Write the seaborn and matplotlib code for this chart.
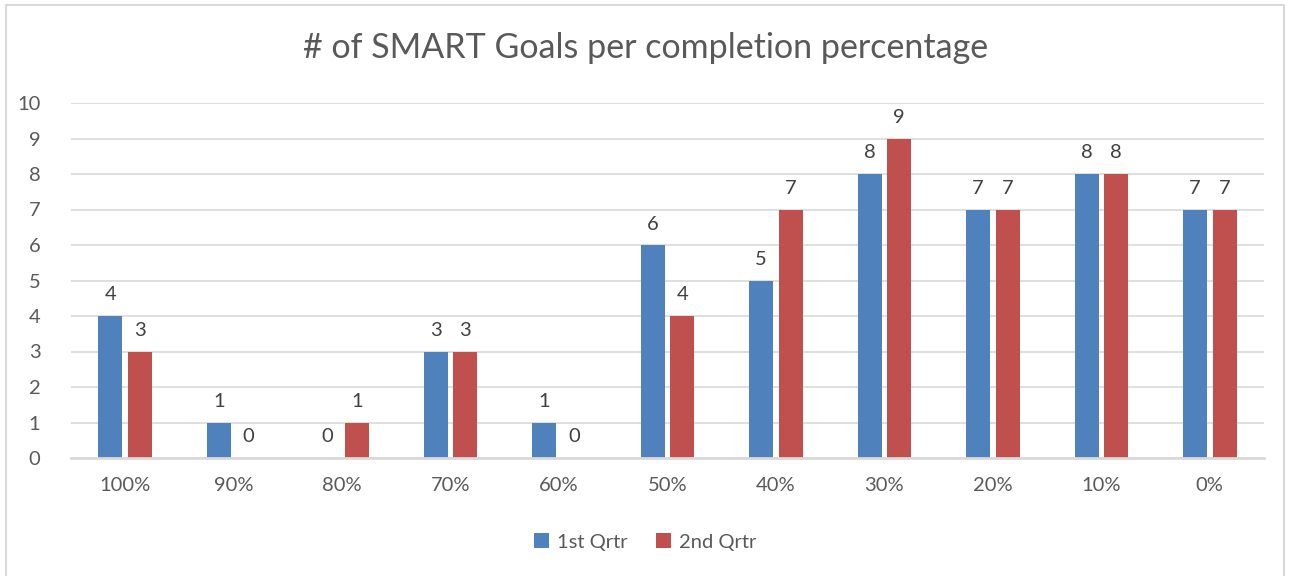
import matplotlib
matplotlib.use("Agg")
import matplotlib.pyplot as plt
import seaborn as sns
import pandas as pd
from matplotlib.patches import Rectangle

categories = ["100%", "90%", "80%", "70%", "60%", "50%", "40%", "30%", "20%", "10%", "0%"]
q1 = [4, 1, 0, 3, 1, 6, 5, 8, 7, 8, 7]
q2 = [3, 0, 1, 3, 0, 4, 7, 9, 7, 8, 7]
series = ["1st Qrtr", "2nd Qrtr"]
colors = ["#4F81BD", "#C0504D"]
title = "# of SMART Goals per completion percentage"

df = pd.DataFrame({
    "cat": categories * 2,
    "val": q1 + q2,
    "series": [series[0]] * len(categories) + [series[1]] * len(categories),
})

sns.set_theme(style="white")
plt.rcParams["font.family"] = ["Lato", "DejaVu Sans"]
txt = "#595959"

fig = plt.figure(figsize=(12.91, 5.76), dpi=100)
ax = fig.add_axes([71 / 1291, (576 - 458) / 576, (1264 - 71) / 1291, (458 - 103) / 576])

sns.barplot(data=df, x="cat", y="val", hue="series", order=categories,
            hue_order=series, palette=colors, width=0.545, gap=0.19,
            saturation=1, linewidth=0, ax=ax, legend=True)

for c in ax.containers:
    ax.bar_label(c, padding=9, fontsize=14.5, color="#404040")

ax.set_ylim(0, 10)
ax.set_yticks(range(0, 11))
ax.set_xlim(-0.5, len(categories) - 0.5)
ax.yaxis.grid(True, color="#D9D9D9", linewidth=1.2)
ax.set_axisbelow(True)
for s in ["top", "right", "left"]:
    ax.spines[s].set_visible(False)
ax.spines["bottom"].set_color("#D9D9D9")
ax.spines["bottom"].set_linewidth(2)
ax.set_xlabel("")
ax.set_ylabel("")
ax.tick_params(axis="x", length=0, pad=14, labelsize=14.5, labelcolor=txt)
ax.tick_params(axis="y", length=0, pad=22, labelsize=14.5, labelcolor=txt)

ax.legend(loc="center", bbox_to_anchor=(0.5, (576 - 542) / 576), bbox_transform=fig.transFigure,
          ncol=2, frameon=False, fontsize=14.5, labelcolor=txt, handlelength=0.75,
          handleheight=0.75, handletextpad=0.4, columnspacing=1.4)

fig.text(0.5, (576 - 48) / 576, title, ha="center", va="center", fontsize=24.5, color=txt)

fig.patches.append(Rectangle((6 / 1291, -0.01), (1284 - 6) / 1291, (576 - 5) / 576 + 0.01,
                             transform=fig.transFigure, fill=False, edgecolor="#D9D9D9",
                             linewidth=1.5, figure=fig))

fig.savefig("out.png", dpi=100)
